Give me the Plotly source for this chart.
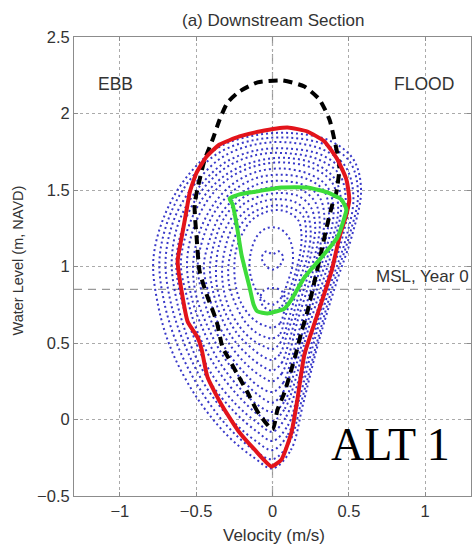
import plotly.graph_objects as go

# ---------------- data ----------------
x_ticks = [-1, -0.5, 0, 0.5, 1]
y_ticks = [-0.5, 0, 0.5, 1, 1.5, 2, 2.5]

# observed velocity / water-level tidal loops (blue scatter)
loop1_v = [0.0, 0.12, 0.2, 0.3, 0.42, 0.52, 0.58, 0.53, 0.38, 0.15, -0.1, -0.35, -0.55, -0.7, -0.78, -0.75, -0.66, -0.5, -0.3, -0.12, 0.0]
loop1_h = [-0.32, -0.2, 0.1, 0.5, 0.9, 1.2, 1.5, 1.7, 1.82, 1.87, 1.86, 1.78, 1.6, 1.35, 1.05, 0.75, 0.45, 0.15, -0.1, -0.25, -0.32]
loop1b_v = [0.0, 0.11, 0.19, 0.29, 0.4, 0.5, 0.56, 0.51, 0.36, 0.14, -0.1, -0.34, -0.53, -0.67, -0.74, -0.71, -0.62, -0.47, -0.29, -0.12, 0.0]
loop1b_h = [-0.26, -0.15, 0.12, 0.5, 0.89, 1.19, 1.47, 1.68, 1.79, 1.84, 1.83, 1.75, 1.58, 1.34, 1.05, 0.77, 0.48, 0.19, -0.05, -0.2, -0.26]
loop2_v = [0.0, 0.1, 0.18, 0.27, 0.38, 0.48, 0.53, 0.48, 0.34, 0.12, -0.1, -0.32, -0.5, -0.64, -0.7, -0.67, -0.58, -0.44, -0.27, -0.11, 0.0]
loop2_h = [-0.2, -0.1, 0.15, 0.5, 0.88, 1.18, 1.45, 1.65, 1.76, 1.81, 1.8, 1.72, 1.55, 1.32, 1.05, 0.78, 0.5, 0.22, 0.0, -0.14, -0.2]
loop2b_v = [0.0, 0.1, 0.17, 0.26, 0.36, 0.45, 0.5, 0.46, 0.32, 0.11, -0.1, -0.31, -0.48, -0.61, -0.66, -0.63, -0.55, -0.42, -0.25, -0.1, 0.0]
loop2b_h = [-0.14, -0.04, 0.18, 0.51, 0.87, 1.16, 1.43, 1.62, 1.73, 1.77, 1.76, 1.68, 1.52, 1.3, 1.04, 0.79, 0.52, 0.26, 0.05, -0.08, -0.14]
loop3_v = [0.0, 0.09, 0.16, 0.24, 0.34, 0.43, 0.48, 0.44, 0.3, 0.1, -0.1, -0.3, -0.46, -0.58, -0.63, -0.6, -0.52, -0.4, -0.24, -0.1, 0.0]
loop3_h = [-0.08, 0.02, 0.22, 0.52, 0.87, 1.15, 1.42, 1.6, 1.7, 1.74, 1.73, 1.65, 1.5, 1.28, 1.03, 0.8, 0.55, 0.3, 0.1, -0.02, -0.08]
loop3b_v = [0.0, 0.08, 0.15, 0.22, 0.32, 0.4, 0.45, 0.41, 0.28, 0.09, -0.1, -0.29, -0.44, -0.55, -0.6, -0.56, -0.49, -0.37, -0.22, -0.09, 0.0]
loop3b_h = [-0.01, 0.07, 0.26, 0.54, 0.87, 1.14, 1.4, 1.57, 1.67, 1.71, 1.69, 1.61, 1.47, 1.26, 1.02, 0.8, 0.57, 0.34, 0.15, 0.03, -0.01]
loop4_v = [0.0, 0.08, 0.14, 0.21, 0.3, 0.38, 0.43, 0.39, 0.27, 0.08, -0.1, -0.28, -0.42, -0.52, -0.56, -0.53, -0.46, -0.35, -0.21, -0.09, 0.0]
loop4_h = [0.05, 0.12, 0.3, 0.56, 0.88, 1.13, 1.38, 1.55, 1.64, 1.68, 1.66, 1.58, 1.44, 1.24, 1.02, 0.8, 0.6, 0.38, 0.2, 0.09, 0.05]
loop4b_v = [0.0, 0.07, 0.13, 0.2, 0.28, 0.35, 0.4, 0.36, 0.25, 0.07, -0.1, -0.26, -0.39, -0.48, -0.52, -0.5, -0.43, -0.32, -0.19, -0.08, 0.0]
loop4b_h = [0.11, 0.18, 0.34, 0.58, 0.88, 1.11, 1.35, 1.52, 1.6, 1.64, 1.62, 1.54, 1.4, 1.22, 1.01, 0.81, 0.62, 0.41, 0.25, 0.15, 0.11]
loop5_v = [0.0, 0.07, 0.12, 0.18, 0.26, 0.33, 0.37, 0.34, 0.23, 0.06, -0.1, -0.25, -0.37, -0.45, -0.49, -0.46, -0.4, -0.3, -0.18, -0.08, 0.0]
loop5_h = [0.18, 0.24, 0.38, 0.6, 0.88, 1.1, 1.33, 1.49, 1.57, 1.6, 1.58, 1.5, 1.37, 1.2, 1.0, 0.82, 0.64, 0.45, 0.3, 0.21, 0.18]
loop5b_v = [0.0, 0.06, 0.11, 0.16, 0.24, 0.3, 0.34, 0.31, 0.21, 0.05, -0.09, -0.23, -0.34, -0.41, -0.45, -0.42, -0.37, -0.28, -0.17, -0.07, 0.0]
loop5b_h = [0.25, 0.3, 0.43, 0.63, 0.89, 1.09, 1.3, 1.45, 1.53, 1.56, 1.54, 1.46, 1.34, 1.18, 1.0, 0.83, 0.66, 0.49, 0.36, 0.28, 0.25]
loop6_v = [0.0, 0.06, 0.1, 0.15, 0.22, 0.28, 0.31, 0.28, 0.19, 0.05, -0.09, -0.22, -0.32, -0.38, -0.41, -0.39, -0.34, -0.26, -0.16, -0.07, 0.0]
loop6_h = [0.32, 0.37, 0.48, 0.66, 0.9, 1.08, 1.28, 1.42, 1.5, 1.52, 1.5, 1.43, 1.31, 1.16, 0.99, 0.84, 0.68, 0.53, 0.42, 0.35, 0.32]
loop6b_v = [0.0, 0.05, 0.09, 0.14, 0.2, 0.25, 0.28, 0.25, 0.17, 0.04, -0.08, -0.2, -0.29, -0.35, -0.37, -0.36, -0.31, -0.23, -0.14, -0.06, 0.0]
loop6b_h = [0.39, 0.43, 0.54, 0.7, 0.91, 1.07, 1.26, 1.39, 1.46, 1.48, 1.46, 1.4, 1.28, 1.14, 0.98, 0.85, 0.7, 0.56, 0.47, 0.41, 0.39]
loop7_v = [0.0, 0.05, 0.09, 0.13, 0.18, 0.23, 0.25, 0.22, 0.15, 0.04, -0.08, -0.18, -0.26, -0.31, -0.33, -0.32, -0.28, -0.21, -0.13, -0.06, 0.0]
loop7_h = [0.46, 0.5, 0.6, 0.74, 0.92, 1.07, 1.24, 1.36, 1.42, 1.44, 1.42, 1.36, 1.26, 1.12, 0.98, 0.85, 0.72, 0.6, 0.52, 0.48, 0.46]
loop7b_v = [0.0, 0.05, 0.08, 0.12, 0.16, 0.2, 0.22, 0.2, 0.13, 0.03, -0.07, -0.16, -0.23, -0.27, -0.29, -0.28, -0.24, -0.18, -0.11, -0.05, 0.0]
loop7b_h = [0.53, 0.56, 0.66, 0.79, 0.94, 1.07, 1.22, 1.33, 1.38, 1.4, 1.38, 1.33, 1.23, 1.11, 0.98, 0.86, 0.75, 0.64, 0.57, 0.54, 0.53]
loop8_v = [0.0, 0.05, 0.08, 0.11, 0.15, 0.18, 0.19, 0.17, 0.11, 0.03, -0.06, -0.14, -0.2, -0.24, -0.25, -0.24, -0.21, -0.15, -0.09, -0.04, 0.0]
loop8_h = [0.6, 0.63, 0.72, 0.84, 0.96, 1.08, 1.2, 1.3, 1.35, 1.37, 1.35, 1.3, 1.21, 1.1, 0.98, 0.87, 0.77, 0.68, 0.63, 0.61, 0.6]
loop9_v = [0.0, 0.06, 0.1, 0.13, 0.13, 0.1, 0.04, -0.04, -0.1, -0.14, -0.15, -0.12, -0.07, 0.0]
loop9_h = [0.75, 0.8, 0.9, 1.0, 1.12, 1.2, 1.25, 1.25, 1.2, 1.1, 0.98, 0.87, 0.79, 0.75]
loop10_v = [0.0, 0.06, 0.08, 0.06, 0.0, -0.06, -0.08, -0.06, 0.0]
loop10_h = [0.71, 0.74, 0.79, 0.84, 0.86, 0.84, 0.79, 0.74, 0.71]
loop11_v = [0.0, 0.05, 0.07, 0.04, 0.0, -0.04, -0.07, -0.05, 0.0]
loop11_h = [0.98, 1.01, 1.06, 1.1, 1.08, 1.1, 1.06, 1.01, 0.98]

# black dashed envelope
dash_v = [0.0, -0.098, -0.163, -0.229, -0.294, -0.327, -0.366, -0.431, -0.477, -0.497, -0.51, -0.477, -0.444, -0.392, -0.346, -0.294, -0.216, -0.098, 0.065, 0.209, 0.307, 0.373, 0.405, 0.438, 0.418, 0.392, 0.359, 0.32, 0.275, 0.229, 0.19, 0.157, 0.124, 0.078, 0.033, 0.0]
dash_h = [-0.065, 0.052, 0.176, 0.294, 0.412, 0.471, 0.641, 0.817, 0.967, 1.19, 1.405, 1.569, 1.699, 1.83, 1.961, 2.072, 2.144, 2.203, 2.216, 2.176, 2.092, 1.961, 1.83, 1.654, 1.484, 1.405, 1.275, 1.098, 0.902, 0.706, 0.575, 0.444, 0.327, 0.176, 0.065, -0.065]

# red envelope
red_v = [-0.562, -0.542, -0.497, -0.431, -0.346, -0.216, -0.085, 0.098, 0.229, 0.34, 0.425, 0.484, 0.503, 0.484, 0.438, 0.386, 0.294, 0.209, 0.163, 0.124, 0.059, -0.007, -0.118, -0.216, -0.327, -0.425, -0.464, -0.49, -0.556, -0.595, -0.621, -0.588, -0.562]
red_h = [1.373, 1.484, 1.614, 1.719, 1.797, 1.85, 1.882, 1.908, 1.882, 1.817, 1.699, 1.569, 1.438, 1.34, 1.19, 0.967, 0.686, 0.425, 0.131, -0.085, -0.261, -0.307, -0.196, -0.085, 0.085, 0.275, 0.458, 0.536, 0.641, 0.837, 1.033, 1.229, 1.373]

# green envelope
green_v = [-0.281, -0.216, -0.105, 0.059, 0.229, 0.359, 0.451, 0.484, 0.471, 0.425, 0.32, 0.209, 0.124, 0.078, -0.033, -0.098, -0.124, -0.15, -0.203, -0.235, -0.261, -0.281]
green_h = [1.444, 1.471, 1.49, 1.516, 1.516, 1.484, 1.438, 1.373, 1.32, 1.19, 1.059, 0.928, 0.784, 0.725, 0.693, 0.706, 0.752, 0.863, 1.078, 1.275, 1.405, 1.444]

msl_level = 0.85

loops = [(loop1_v, loop1_h), (loop1b_v, loop1b_h), (loop2_v, loop2_h), (loop2b_v, loop2b_h),
         (loop3_v, loop3_h), (loop3b_v, loop3b_h), (loop4_v, loop4_h), (loop4b_v, loop4b_h),
         (loop5_v, loop5_h), (loop5b_v, loop5b_h), (loop6_v, loop6_h), (loop6b_v, loop6b_h),
         (loop7_v, loop7_h), (loop7b_v, loop7b_h), (loop8_v, loop8_h),
         (loop9_v, loop9_h), (loop10_v, loop10_h), (loop11_v, loop11_h)]

# ---------------- figure ----------------
fig = go.Figure()

for v, h in loops:
    fig.add_trace(go.Scatter(x=v, y=h, mode="lines",
                             line=dict(color="rgba(35,35,195,0.9)", width=2.0,
                                       dash="2px,3px", shape="spline", smoothing=1.0),
                             showlegend=False, hoverinfo="skip"))

fig.add_trace(go.Scatter(x=dash_v, y=dash_h, mode="lines",
                         line=dict(color="black", width=4, dash="9px,6px", shape="spline", smoothing=0.6),
                         showlegend=False))
fig.add_trace(go.Scatter(x=red_v, y=red_h, mode="lines",
                         line=dict(color="#e3141b", width=4, shape="spline", smoothing=0.5),
                         showlegend=False))
fig.add_trace(go.Scatter(x=green_v, y=green_h, mode="lines",
                         line=dict(color="#3ddc3a", width=4, shape="spline", smoothing=0.5),
                         showlegend=False))

# MSL dashed line and x=0 dash-dot line
fig.add_shape(type="line", xref="paper", x0=0, x1=1, yref="y", y0=msl_level, y1=msl_level,
              line=dict(color="#999999", width=1.2, dash="8px,6px"), layer="below")
fig.add_shape(type="line", xref="x", x0=0, x1=0, yref="paper", y0=0, y1=1,
              line=dict(color="#999999", width=1.2, dash="10px,3px,2px,3px"), layer="below")

font_main = "Liberation Sans, Arial, sans-serif"
ann = []
ann.append(dict(text="(a) Downstream Section", xref="paper", yref="paper", x=0.501, y=1.037,
                xanchor="center", yanchor="middle",
                showarrow=False, font=dict(size=17, color="#333333", family=font_main)))
ann.append(dict(text="Velocity (m/s)", xref="paper", yref="paper", x=0.505, y=-0.085,
                xanchor="center", yanchor="middle",
                showarrow=False, font=dict(size=17, color="#333333", family=font_main)))
ann.append(dict(text="Water Level (m, NAVD)", xref="paper", yref="paper", x=-0.14, y=0.514,
                xanchor="center", yanchor="middle",
                textangle=-90, showarrow=False, font=dict(size=14.5, color="#333333", family=font_main)))
ann.append(dict(text="EBB", x=-1.03, y=2.19, showarrow=False, xanchor="center", yanchor="middle",
                font=dict(size=17.5, color="#333333", family=font_main)))
ann.append(dict(text="FLOOD", x=0.993, y=2.19, showarrow=False, xanchor="center", yanchor="middle",
                font=dict(size=17.5, color="#333333", family=font_main)))
ann.append(dict(text="MSL, Year 0", x=1.3, y=0.935, xanchor="right", yanchor="middle", showarrow=False,
                font=dict(size=17, color="#333333", family=font_main)))
ann.append(dict(text="ALT 1", x=0.77, y=-0.163, showarrow=False, xanchor="center", yanchor="middle",
                font=dict(size=46, color="black", family="Liberation Serif, Times New Roman, serif")))

axis_common = dict(showgrid=True, gridcolor="#aaaaaa", griddash="dot", gridwidth=1,
                   zeroline=False, showline=True, linecolor="#8c8c8c", linewidth=1, mirror="ticks",
                   ticks="inside", ticklen=4, tickcolor="#8c8c8c",
                   tickfont=dict(size=16.5, color="#333333", family=font_main))

fig.update_layout(
    width=473, height=547,
    margin=dict(l=74, r=2, t=37, b=51),
    paper_bgcolor="white", plot_bgcolor="white",
    xaxis=dict(range=[-1.3, 1.3], tickvals=x_ticks, **axis_common),
    yaxis=dict(range=[-0.5, 2.5], tickvals=y_ticks, **axis_common),
    annotations=ann,
    showlegend=False,
)

fig.write_html("out.html")
